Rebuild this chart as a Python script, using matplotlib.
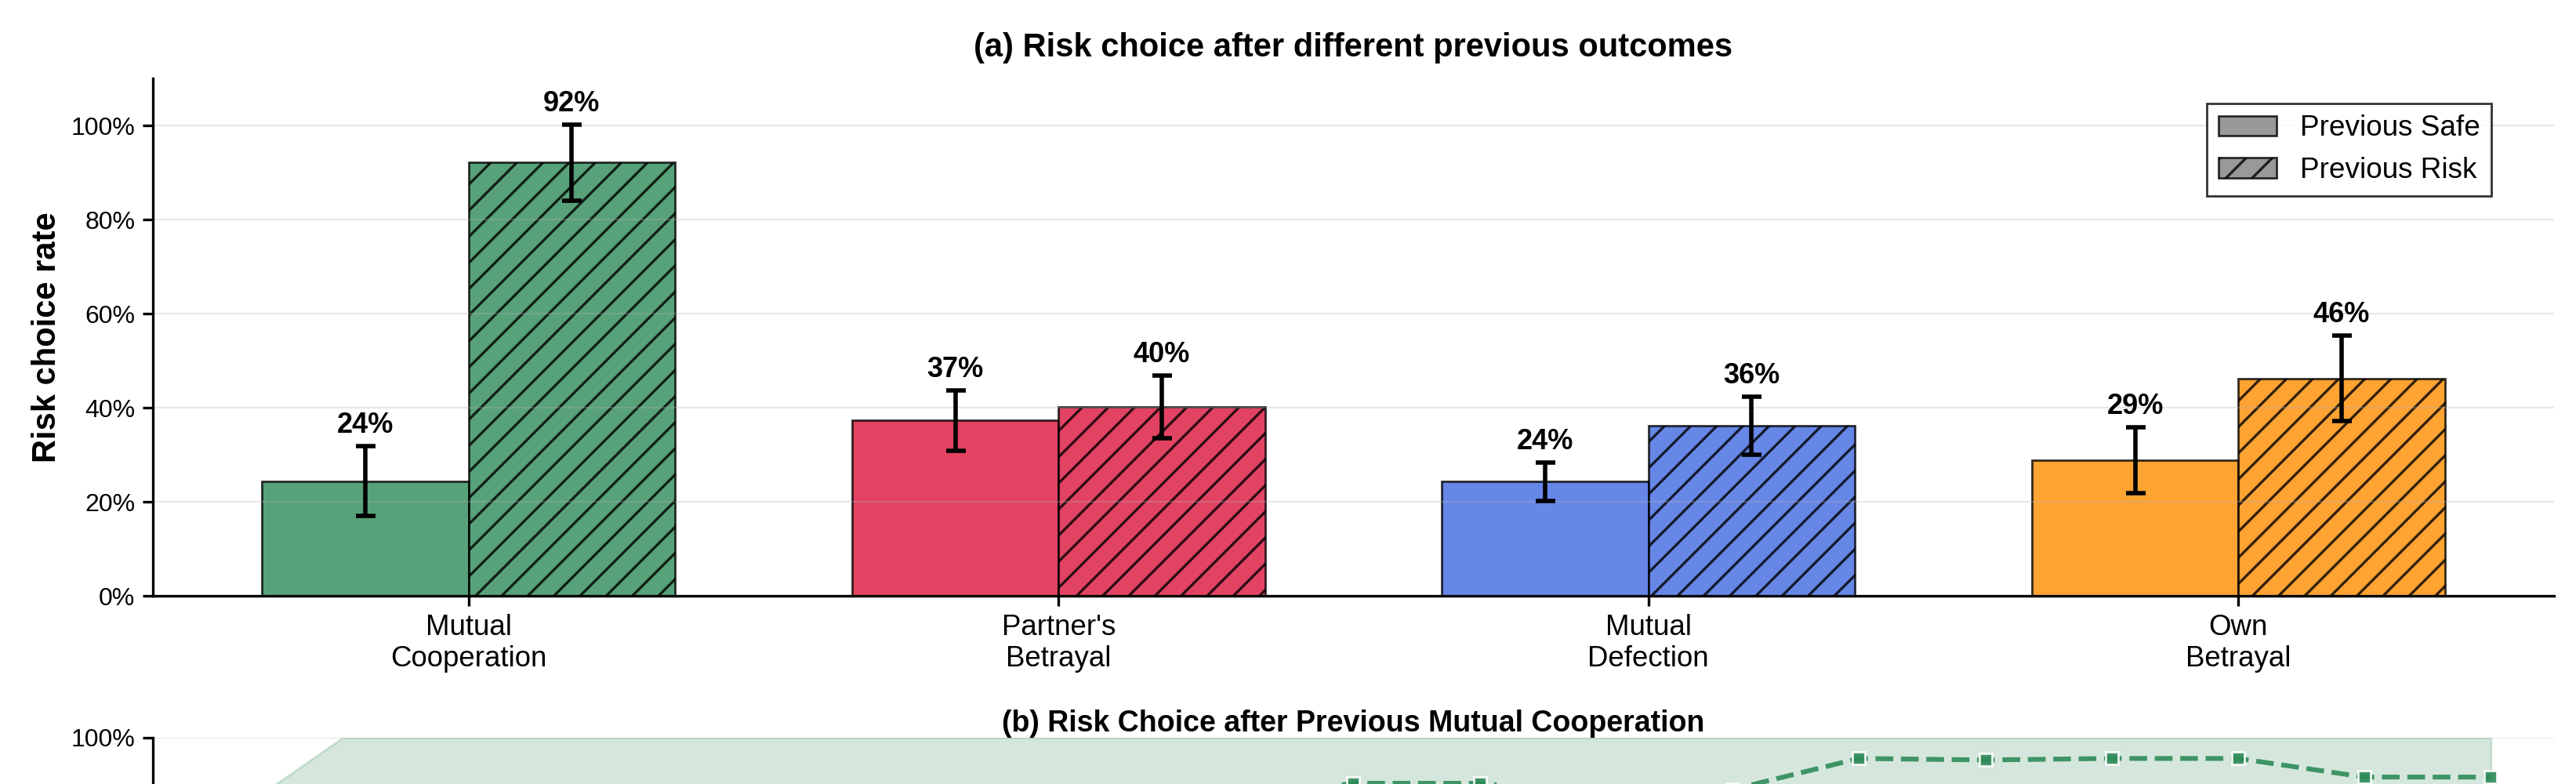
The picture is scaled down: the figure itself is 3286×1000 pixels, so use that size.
import numpy as np
import matplotlib
matplotlib.use('Agg')
import matplotlib.pyplot as plt
from matplotlib.patches import Patch
from matplotlib.ticker import PercentFormatter

plt.rcParams['font.family'] = ['Liberation Sans', 'DejaVu Sans']
plt.rcParams['axes.linewidth'] = 1.2
plt.rcParams['xtick.major.width'] = 1.2
plt.rcParams['ytick.major.width'] = 1.2
plt.rcParams['xtick.major.size'] = 4.6
plt.rcParams['ytick.major.size'] = 4.6
plt.rcParams['hatch.linewidth'] = 1.2

# ---------------- data ----------------
categories = ["Mutual\nCooperation", "Partner's\nBetrayal", "Mutual\nDefection", "Own\nBetrayal"]
bar_colors = ['#2E8B57', '#DC143C', '#4169E1', '#FF8C00']
prev_safe = [0.244, 0.373, 0.243, 0.289]
prev_safe_err = [0.074, 0.064, 0.041, 0.070]
prev_risk = [0.921, 0.402, 0.362, 0.462]
prev_risk_err = [0.081, 0.067, 0.062, 0.091]

rounds = list(range(1, 20))
mc_rate = [0.50, 0.62, 0.70, 0.74, 0.78, 0.80, 0.84, 0.86, 0.88, 0.912,
           0.912, 0.89, 0.90, 0.96, 0.957, 0.96, 0.96, 0.924, 0.924]
mc_lower = [0.17, 0.30, 0.40, 0.46, 0.52, 0.55, 0.60, 0.64, 0.66, 0.72,
            0.72, 0.68, 0.70, 0.84, 0.83, 0.84, 0.84, 0.78, 0.78]
mc_upper = [0.83, 1.00, 1.00, 1.00, 1.00, 1.00, 1.00, 1.00, 1.00, 1.00,
            1.00, 1.00, 1.00, 1.00, 1.00, 1.00, 1.00, 1.00, 1.00]
b_ticks = [1.0]

# ---------------- figure ----------------
fig = plt.figure(figsize=(16.435, 5.0), dpi=200)
ax = fig.add_axes([195/3287, 0.24, (3258-195)/3287, 0.66])
ax2 = fig.add_axes([195/3287, 0.059 - 0.66, (3258-195)/3287, 0.66])

x = np.arange(len(categories))
w = 0.35
for i in range(len(categories)):
    ax.bar(x[i] - w/2, prev_safe[i], w, color=bar_colors[i], alpha=0.8,
           edgecolor='black', linewidth=1)
    ax.bar(x[i] + w/2, prev_risk[i], w, color=bar_colors[i], alpha=0.8,
           edgecolor='black', linewidth=1, hatch='//')
ax.errorbar(x - w/2, prev_safe, yerr=prev_safe_err, fmt='none', ecolor='black',
            elinewidth=2, capsize=4.5, capthick=2)
ax.errorbar(x + w/2, prev_risk, yerr=prev_risk_err, fmt='none', ecolor='black',
            elinewidth=2, capsize=4.5, capthick=2)
for i in range(len(categories)):
    ax.text(x[i] - w/2, prev_safe[i] + prev_safe_err[i] + 0.015, f"{prev_safe[i]:.0%}",
            ha='center', va='bottom', fontsize=13, fontweight='bold')
    ax.text(x[i] + w/2, prev_risk[i] + prev_risk_err[i] + 0.015, f"{prev_risk[i]:.0%}",
            ha='center', va='bottom', fontsize=13, fontweight='bold')

ax.set_ylim(0, 1.10)
ax.set_xticks(x)
ax.set_xticklabels(categories, fontsize=13.2)
ax.yaxis.set_major_formatter(PercentFormatter(1.0, decimals=0))
ax.tick_params(axis='y', labelsize=11.5)
ax.set_ylabel('Risk choice rate', fontsize=15, fontweight='bold')
ax.set_title('(a) Risk choice after different previous outcomes', fontsize=15,
             fontweight='bold', pad=10)
ax.grid(True, axis='y', alpha=0.3)
ax.spines['top'].set_visible(False)
ax.spines['right'].set_visible(False)
handles = [Patch(facecolor='gray', alpha=0.8, edgecolor='black', label='Previous Safe'),
           Patch(facecolor='gray', alpha=0.8, edgecolor='black', hatch='//', label='Previous Risk')]
ax.legend(handles=handles, loc='upper right', bbox_to_anchor=(0.98, 0.98),
          fontsize=13.3, fancybox=False, edgecolor='black')

# bottom panel (only its top strip falls inside the image)
ax2.fill_between(rounds, mc_lower, mc_upper, color='#2E8B57', alpha=0.2)
ax2.plot(rounds, mc_rate, color='#2E8B57', ls='--', lw=2.2, marker='s', markersize=6,
         markeredgecolor='white', markeredgewidth=1, alpha=0.9)
ax2.set_xlim(0.5, 19.5)
ax2.set_ylim(0, 1.0)
ax2.set_yticks(b_ticks)
ax2.set_xticks([])
ax2.yaxis.set_major_formatter(PercentFormatter(1.0, decimals=0))
ax2.tick_params(axis='y', labelsize=11.5)
ax2.set_title('(b) Risk Choice after Previous Mutual Cooperation', fontsize=13.5,
              fontweight='bold', pad=1)
ax2.grid(True, axis='y', alpha=0.3)
ax2.spines['top'].set_visible(False)
ax2.spines['right'].set_visible(False)

fig.savefig('out.png', dpi=200)
